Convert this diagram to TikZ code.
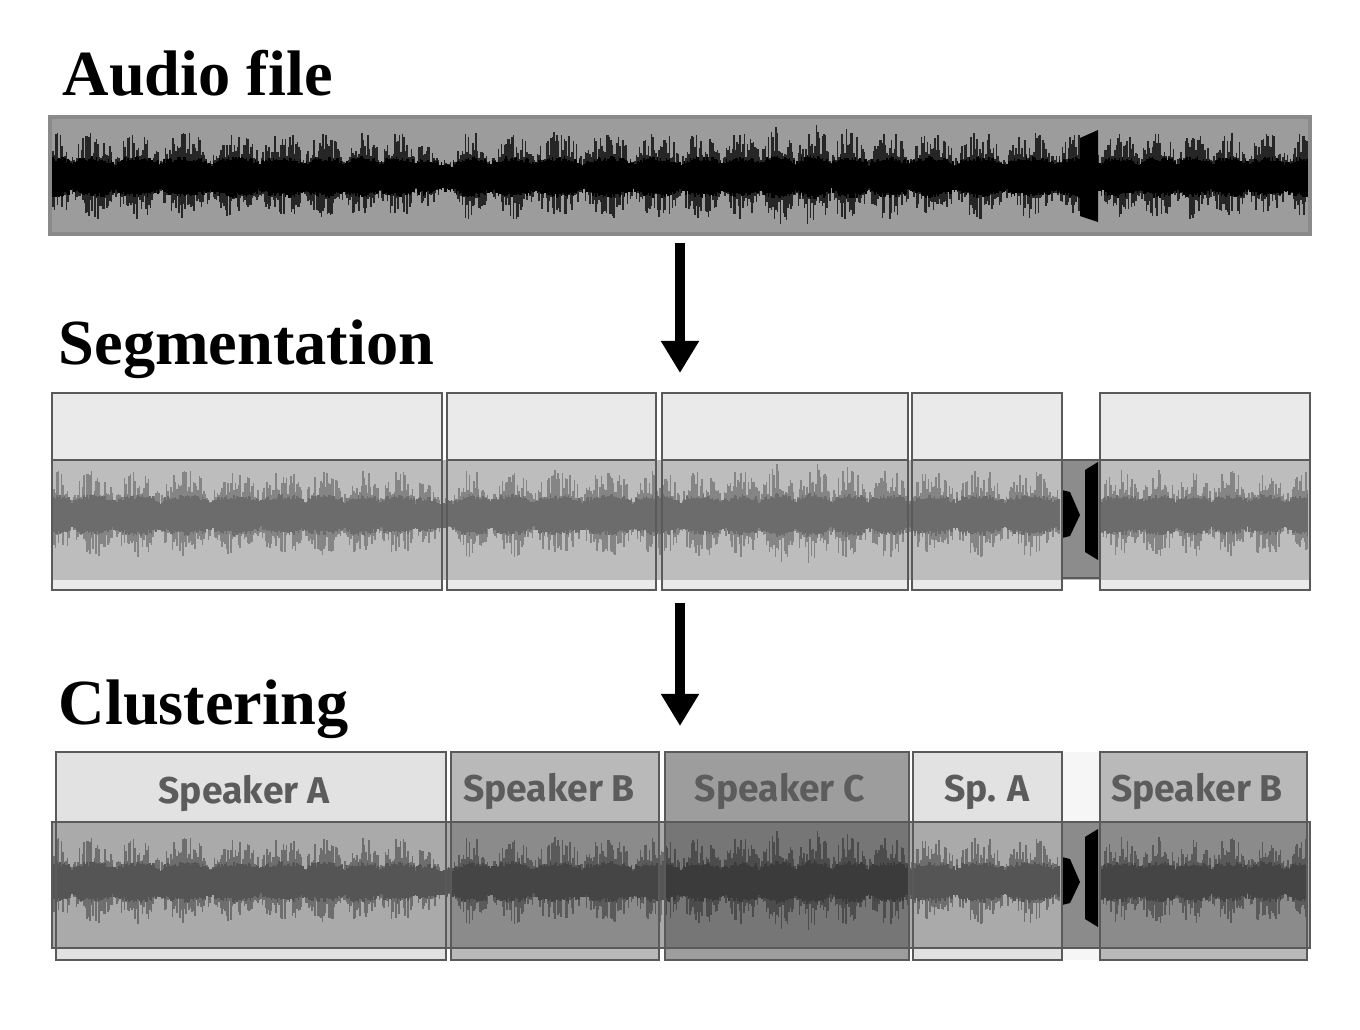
\documentclass[tikz,border=0pt]{standalone}
\usepackage{fontspec}
\setmainfont{Liberation Serif}
\newfontfamily\spkfont{Fira Sans}
\usetikzlibrary{arrows.meta}

\definecolor{audiobg}{HTML}{9C9C9C}
\definecolor{audioline}{HTML}{8A8A8A}
\definecolor{labelbg}{HTML}{EAEAEA}
\definecolor{segstrip}{HTML}{BDBDBD}
\definecolor{segspike}{HTML}{858585}
\definecolor{segwave}{HTML}{6C6C6C}
\definecolor{clulabel}{HTML}{E2E2E2}
\definecolor{clustrip}{HTML}{AAAAAA}
\definecolor{cluspike}{HTML}{6E6E6E}
\definecolor{cluwave}{HTML}{555555}
\definecolor{gapbg}{HTML}{F6F6F6}
\definecolor{boxline}{HTML}{5A5A5A}
\definecolor{spktext}{HTML}{5C5C5C}

% one waveform: first x, second x, last x, centre line, spike colour, core colour
\newcommand{\wavetrace}[6]{%
  \pgfmathsetseed{2718}
  \draw[#5, line width=0.016cm]
    \foreach \x in {#1,#2,...,#3}{
      (\x,{#4-8-env(\x)*(10+28*rnd)}) -- (\x,{#4+8+env(\x)*(8+27*rnd)})
    };
  \draw[#6, line width=0.016cm]
    \foreach \x in {#1,#2,...,#3}{
      (\x,{#4-9-5*rnd-7*env(\x)}) -- (\x,{#4+9+5*rnd+7*env(\x)})
    };
}

\begin{document}
\begin{tikzpicture}[x=0.01cm, y=-0.01cm,
    declare function={env(\s)=(0.12+0.88*sqrt(abs(sin(4.3*\s+50*sin(0.9*\s)))))
      *(1+0.25*max(0,1-abs(\s-810)/70))*(1-0.8*max(0,1-abs(\s-442)/22));},
    title/.style={anchor=base west, inner sep=0pt,
      font=\bfseries\fontsize{18.3}{20}\selectfont},
    spk/.style={anchor=base, inner sep=0pt, text=spktext,
      font=\spkfont\bfseries\fontsize{10.6}{12}\selectfont},
    frame/.style={draw=boxline, line width=0.016cm},
    flow/.style={-{Triangle[width=0.36cm,length=0.32cm]}, line width=0.1cm}]

  \useasboundingbox (0,0) rectangle (1360,1030);

  % audio file
  \node[title] (audio) at (62,95) {Audio file};
  \fill[audiobg] (50,117) rectangle (1310,234);
  \wavetrace{53}{54.5}{1308}{177}{black!85}{black}
  \fill[black] (1080,138) -- (1098,130) -- (1098,222) -- (1080,216) -- cycle;
  \draw[audioline, line width=0.035cm] (50,117) rectangle (1310,234);

  \coordinate (a1) at (680,243);
  \coordinate (a2) at (680,373);
  \draw[flow] (a1) -- (a2);

  % segmentation
  \node[title] (seg) at (58,364) {Segmentation};
  \fill[labelbg] (52,393) rectangle (442,460) (52,580) rectangle (442,590);
  \fill[labelbg] (447,393) rectangle (656,460) (447,580) rectangle (656,590);
  \fill[labelbg] (662,393) rectangle (908,460) (662,580) rectangle (908,590);
  \fill[labelbg] (912,393) rectangle (1062,460) (912,580) rectangle (1062,590);
  \fill[labelbg] (1100,393) rectangle (1310,460) (1100,580) rectangle (1310,590);
  \fill[segstrip] (52,460) rectangle (1310,580);
  \fill[black!45] (1062,460) rectangle (1100,578);
  \wavetrace{54}{55.5}{1060}{515}{segspike}{segwave}
  \wavetrace{1102}{1103.5}{1308}{515}{segspike}{segwave}
  \fill[black] (1062,490) -- (1070,492) -- (1080,515) -- (1070,536) -- (1062,538) -- cycle;
  \fill[black] (1085,470) -- (1098,462) -- (1098,560) -- (1085,552) -- cycle;
  \draw[frame] (1062,460) rectangle (1100,578);
  \draw[frame] (52,393) rectangle (442,590) (52,460) -- (442,460);
  \draw[frame] (447,393) rectangle (656,590) (447,460) -- (656,460);
  \draw[frame] (662,393) rectangle (908,590) (662,460) -- (908,460);
  \draw[frame] (912,393) rectangle (1062,590) (912,460) -- (1062,460);
  \draw[frame] (1100,393) rectangle (1310,590) (1100,460) -- (1310,460);

  \coordinate (b1) at (680,603);
  \coordinate (b2) at (680,726);
  \draw[flow] (b1) -- (b2);

  % clustering
  \node[title] (clu) at (58,724) {Clustering};
  \fill[gapbg] (1062,752) rectangle (1100,960);
  \fill[clulabel] (56,752) rectangle (446,822) (56,948) rectangle (446,960);
  \fill[clulabel] (451,752) rectangle (659,822) (451,948) rectangle (659,960);
  \fill[clulabel] (665,752) rectangle (909,822) (665,948) rectangle (909,960);
  \fill[clulabel] (913,752) rectangle (1062,822) (913,948) rectangle (1062,960);
  \fill[clulabel] (1100,752) rectangle (1307,822) (1100,948) rectangle (1307,960);
  \fill[clustrip] (52,822) rectangle (1310,948);
  \wavetrace{54}{55.5}{1060}{882}{cluspike}{cluwave}
  \wavetrace{1102}{1103.5}{1308}{882}{cluspike}{cluwave}
  \fill[black] (1062,857) -- (1070,859) -- (1080,882) -- (1070,903) -- (1062,905) -- cycle;
  \fill[black] (1085,837) -- (1098,829) -- (1098,927) -- (1085,919) -- cycle;
  \fill[black, opacity=0.18] (1062,822) rectangle (1100,948);
  \fill[black, opacity=0.18] (451,752) rectangle (659,960);
  \fill[black, opacity=0.30] (665,752) rectangle (909,960);
  \fill[black, opacity=0.18] (1100,752) rectangle (1307,960);
  \draw[frame] (52,822) rectangle (1310,948);
  \draw[frame] (56,752) rectangle (446,960);
  \draw[frame] (451,752) rectangle (659,960);
  \draw[frame] (665,752) rectangle (909,960);
  \draw[frame] (913,752) rectangle (1062,960);
  \draw[frame] (1100,752) rectangle (1307,960);

  \node[spk] (spA) at (244,803) {Speaker A};
  \node[spk] (spB) at (549,801) {Speaker B};
  \node[spk] (spC) at (780,801) {Speaker C};
  \node[spk] (spA2) at (987,801) {Sp. A};
  \node[spk] (spB2) at (1197,801) {Speaker B};
\end{tikzpicture}
\end{document}
